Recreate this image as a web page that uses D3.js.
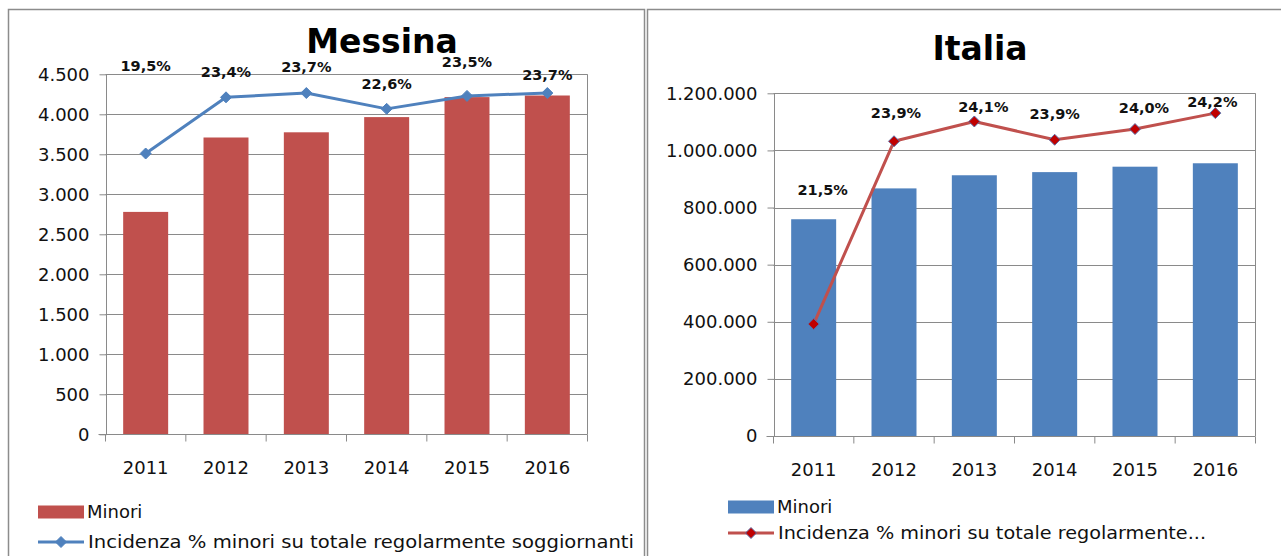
<!DOCTYPE html>
<html>
<head>
<meta charset="utf-8">
<script src="https://cdn.jsdelivr.net/npm/d3@7"></script>
<style>
  html, body { margin: 0; padding: 0; background: #fff; }
  svg { display: block; }
</style>
</head>
<body>
<svg id="chart" width="1281" height="556"></svg>
<script>
// ---------- DATA ----------
const years = ["2011", "2012", "2013", "2014", "2015", "2016"];
const messinaMinori = [2780, 3710, 3775, 3965, 4215, 4235];
const messinaIncidenza = [19.5, 23.4, 23.7, 22.6, 23.5, 23.7];
const italiaMinori = [759000, 867000, 913000, 924000, 943000, 955000];
const italiaIncidenza = [21.47, 23.87, 24.13, 23.89, 24.03, 24.24];
const messinaTicks = [0, 500, 1000, 1500, 2000, 2500, 3000, 3500, 4000, 4500];
const italiaTicks = [0, 200000, 400000, 600000, 800000, 1000000, 1200000];
const seriesBarName = "Minori";
const seriesLineName = "Incidenza % minori su totale regolarmente soggiornanti";
const seriesLineNameShort = "Incidenza % minori su totale regolarmente...";

// label placement tweaks (layout only)
const messinaLabelDx = [0, 0, 0, 0, 0, 0];
const messinaLabelDy = [-88, -26, -26, -25, -34, -18];
const italiaLabelDx = [9, 2, 9, 0, 9, -3];
const italiaLabelDy = [-134, -28, -15, -26, -21, -11];

// ---------- SETUP ----------
const it = d3.formatLocale({decimal: ",", thousands: ".", grouping: [3], currency: ["", "€"]});
const fmtInt = it.format(",d");
const fmtPct = v => it.format(".1f")(v) + "%";

const svg = d3.select("#chart");
const FONT = "'DejaVu Sans', Verdana, sans-serif";
const GRID = "#8a8a8a";
const TXT = "#111";

// panel frames
svg.append("rect").attr("x", 8.5).attr("y", 9.5).attr("width", 636).attr("height", 560)
  .attr("fill", "none").attr("stroke", "#8c8c8c").attr("stroke-width", 1.5);
svg.append("rect").attr("x", 647.5).attr("y", 9.5).attr("width", 660).attr("height", 560)
  .attr("fill", "none").attr("stroke", "#8c8c8c").attr("stroke-width", 1.5);

function drawChart(cfg) {
  const g = svg.append("g");
  const x = d3.scaleBand().domain(years).range(cfg.xRange).paddingInner(0.44).paddingOuter(0.22);
  const y = d3.scaleLinear().domain([0, d3.max(cfg.ticks)]).range(cfg.yRange);
  const y2 = d3.scaleLinear().domain(cfg.y2Domain).range(cfg.yRange);
  const [x0, x1] = cfg.xRange;
  const [yb, yt] = cfg.yRange;

  // gridlines
  g.append("g").selectAll("line").data(cfg.ticks.filter(t => t > 0)).join("line")
    .attr("x1", x0).attr("x2", x1)
    .attr("y1", d => Math.round(y(d)) + 0.5).attr("y2", d => Math.round(y(d)) + 0.5)
    .attr("stroke", GRID).attr("stroke-width", 1);
  // right border of plot area
  g.append("line").attr("x1", x1).attr("x2", x1).attr("y1", yt).attr("y2", yb)
    .attr("stroke", GRID).attr("stroke-width", 1);

  // bars
  g.append("g").selectAll("rect").data(cfg.bars).join("rect")
    .attr("x", (d, i) => x(years[i]))
    .attr("width", x.bandwidth())
    .attr("y", d => y(d))
    .attr("height", d => y(0) - y(d))
    .attr("fill", cfg.barColor);

  // y axis
  const ya = g.append("g").attr("transform", `translate(${Math.round(x0) + 0.5},0)`)
    .call(d3.axisLeft(y).tickValues(cfg.ticks).tickFormat(fmtInt).tickSize(7).tickPadding(10));
  ya.select(".domain").attr("stroke", GRID).attr("d", `M0,${yt}V${yb}`);
  ya.selectAll(".tick line").attr("stroke", GRID);
  ya.selectAll("text").attr("font-family", FONT).attr("font-size", 18).attr("fill", TXT);

  // x axis
  const xa = g.append("g").attr("transform", `translate(0,${Math.round(yb) + 0.5})`);
  xa.append("line").attr("x1", x0 - 7).attr("x2", x1).attr("stroke", GRID);
  const step = x.step();
  xa.selectAll(".xt").data(d3.range(years.length + 1)).join("line").attr("class", "xt")
    .attr("x1", i => x0 + i * step).attr("x2", i => x0 + i * step)
    .attr("y1", 0).attr("y2", 7).attr("stroke", GRID);
  xa.selectAll("text").data(years).join("text")
    .attr("x", d => x(d) + x.bandwidth() / 2).attr("y", 39)
    .attr("text-anchor", "middle").attr("font-family", FONT).attr("font-size", 18)
    .attr("fill", TXT).text(d => d);

  // line
  const cx = i => x(years[i]) + x.bandwidth() / 2;
  const line = d3.line().x((d, i) => cx(i)).y(d => y2(d));
  g.append("path").datum(cfg.line).attr("d", line)
    .attr("fill", "none").attr("stroke", cfg.lineColor).attr("stroke-width", 3)
    .attr("stroke-linejoin", "round");
  const diamond = "M0,-5.5L5.5,0L0,5.5L-5.5,0Z";
  g.append("g").selectAll("path").data(cfg.line).join("path")
    .attr("transform", (d, i) => `translate(${cx(i)},${y2(d)})`)
    .attr("d", diamond).attr("fill", cfg.markerFill)
    .attr("stroke", cfg.markerStroke).attr("stroke-width", 1);

  // title (drawn before labels so labels stay readable)
  g.append("text").attr("x", cfg.titleX).attr("y", cfg.titleY).attr("text-anchor", "middle")
    .attr("font-family", FONT).attr("font-weight", "bold").attr("font-size", 33)
    .attr("fill", "#000").text(cfg.title);

  // data labels
  g.append("g").selectAll("text").data(cfg.line).join("text")
    .attr("x", (d, i) => cx(i) + cfg.labelDx[i])
    .attr("y", (d, i) => y2(d) + cfg.labelDy[i])
    .attr("dy", "0.36em")
    .attr("text-anchor", "middle").attr("font-family", FONT).attr("font-weight", "bold")
    .attr("font-size", 14.5).attr("fill", TXT).text(d => fmtPct(d));

  // legend
  const L = cfg.legend;
  g.append("rect").attr("x", L.x).attr("y", L.y1 - 6.5).attr("width", 46).attr("height", 13)
    .attr("fill", cfg.barColor);
  g.append("text").attr("x", L.x + 49).attr("y", L.y1).attr("dy", "0.36em")
    .attr("font-family", FONT).attr("font-size", 18).attr("fill", TXT).text(seriesBarName);
  g.append("line").attr("x1", L.x).attr("x2", L.x + 46).attr("y1", L.y2).attr("y2", L.y2)
    .attr("stroke", cfg.lineColor).attr("stroke-width", 3);
  g.append("path").attr("transform", `translate(${L.x + 23},${L.y2})`).attr("d", diamond)
    .attr("fill", cfg.markerFill).attr("stroke", cfg.markerStroke).attr("stroke-width", 1);
  g.append("text").attr("x", L.x + 50).attr("y", L.y2).attr("dy", "0.36em")
    .attr("font-family", FONT).attr("font-size", 18).attr("fill", TXT)
    .attr("textLength", L.len2).attr("lengthAdjust", "spacingAndGlyphs").text(L.text2);
}

drawChart({
  title: "Messina", titleX: 382, titleY: 53,
  xRange: [105.5, 587.5], yRange: [434.3, 74.3],
  ticks: messinaTicks, bars: messinaMinori, line: messinaIncidenza,
  y2Domain: [0, 25],
  barColor: "#C0504D", lineColor: "#4F81BD",
  markerFill: "#4F81BD", markerStroke: "#4F81BD",
  labelDx: messinaLabelDx, labelDy: messinaLabelDy,
  legend: {x: 38, y1: 512, y2: 542, len2: 546, text2: seriesLineName}
});

drawChart({
  title: "Italia", titleX: 980, titleY: 60,
  xRange: [773.5, 1255.5], yRange: [436, 93.3],
  ticks: italiaTicks, bars: italiaMinori, line: italiaIncidenza,
  y2Domain: [20, 24.5],
  barColor: "#4F81BD", lineColor: "#C0504D",
  markerFill: "#C00000", markerStroke: "#5b6fa8",
  labelDx: italiaLabelDx, labelDy: italiaLabelDy,
  legend: {x: 728, y1: 507, y2: 533, len2: 428, text2: seriesLineNameShort}
});
</script>
</body>
</html>
